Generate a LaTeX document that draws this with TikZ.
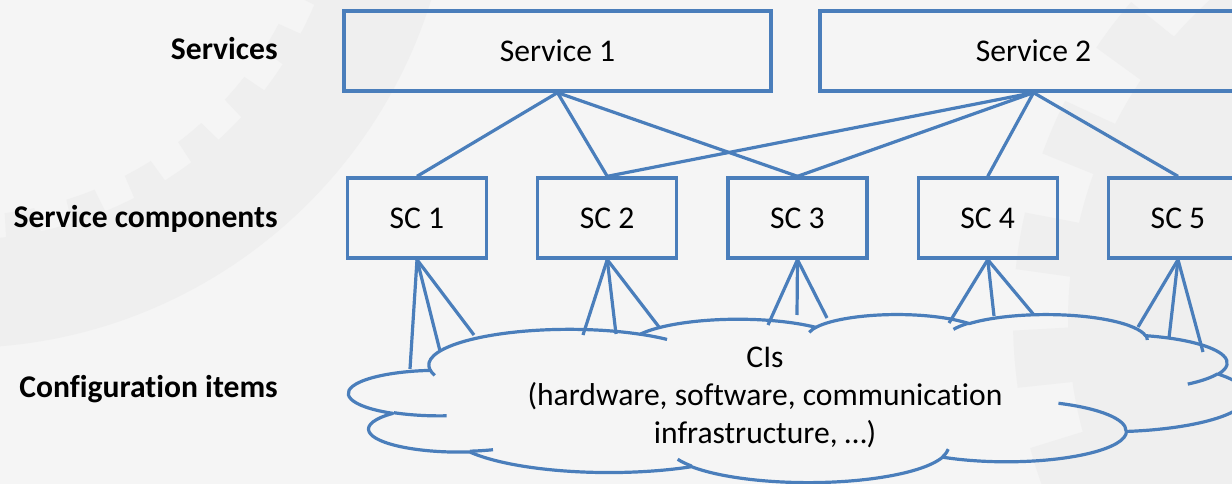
\documentclass[tikz,border=0pt]{standalone}
\usepackage{fontspec}
\setmainfont{Carlito}[Ligatures={NoCommon,NoContextual}]
\definecolor{lineblue}{RGB}{74,126,187}
\definecolor{bgcol}{RGB}{245,245,245}
\definecolor{wmcol}{RGB}{239,239,239}
\newcommand\ooconv[4]{%
  \pgfmathparse{atan2((#3)*sin(#2),(#4)*cos(#2))}%
  \let\ootmp\pgfmathresult
  \pgfmathparse{(#2)+mod(\ootmp-(#2)+540,360)-180}%
  \global\let#1\pgfmathresult}
\begin{document}
\begin{tikzpicture}[x=0.75pt,y=-0.75pt,
  box/.style={draw=lineblue, line width=2.5pt, inner sep=0pt, text=black,
    font=\fontsize{23.7}{28}\selectfont},
  svcbox/.style={box, minimum width=320.25pt, minimum height=60pt},
  scbox/.style={box, minimum width=104.25pt, minimum height=60pt},
  conn/.style={draw=lineblue, line width=2.4pt},
  cloudline/.style={draw=lineblue, line width=2.4pt, line join=round},
  lbl/.style={font=\bfseries\fontsize{23.7}{28}\selectfont, anchor=base east, inner sep=0pt},
  citext/.style={font=\fontsize{23.7}{28}\selectfont, anchor=base, inner sep=0pt},
  wm/.style={fill=wmcol, draw=none}]
\fill[bgcol] (0,0) rectangle (1232,484);
\useasboundingbox (0,0) rectangle (1232,484);
\clip (0,0) rectangle (1232,484);

% faint gear watermark
\begin{scope}[shift={(-41,-146)}]
  \fill[wm, even odd rule] (0,0) circle[radius=494]
    (0,0) -- plot[domain=-20:115, samples=541] (\x:{362+24*mod(floor((\x+2)/5),2)}) -- cycle;
\end{scope}
\begin{scope}[shift={(1500,320)}]
  \fill[wm] (0,0) -- plot[domain=110:250, samples=561] (\x:{432+55*mod(floor((\x+3)/7),2)}) -- cycle;
\end{scope}

% labels
\node[lbl] (l1) at (278,60) {Services};
\node[lbl] (l2) at (278,228) {Service components};
\node[lbl] (l3) at (278,398) {Configuration items};

% boxes
\node[svcbox] (s1) at (557.5,51) {Service 1};
\node[svcbox] (s2) at (1033.5,51) {Service 2};
\node[scbox] (sc1) at (417,218) {SC 1};
\node[scbox] (sc2) at (607.25,218) {SC 2};
\node[scbox] (sc3) at (797.5,218) {SC 3};
\node[scbox] (sc4) at (987.75,218) {SC 4};
\node[scbox] (sc5) at (1178,218) {SC 5};

% service -> component connectors
\draw[conn] (s1.south) -- (sc1.north);
\draw[conn] (s1.south) -- (sc2.north);
\draw[conn] (s1.south) -- (sc3.north);
\draw[conn] (s2.south) -- (sc2.north);
\draw[conn] (s2.south) -- (sc3.north);
\draw[conn] (s2.south) -- (sc4.north);
\draw[conn] (s2.south) -- (sc5.north);

% cloud (PowerPoint cloud geometry)
\ooconv\aAs{-190.48748}{67.53}{91.90}\ooconv\aAe{-66.70695}{67.53}{91.90}
\ooconv\aBs{-144.10238}{53.33}{72.67}\ooconv\aBe{-54.15715}{53.33}{72.67}
\ooconv\aCs{-145.80792}{43.65}{59.45}\ooconv\aCe{-46.08490}{43.65}{59.45}
\ooconv\aDs{-130.98607}{48.57}{65.95}\ooconv\aDe{-13.74434}{48.57}{65.95}
\ooconv\aEs{-78.70888}{53.33}{72.73}\ooconv\aEe{30.31804}{53.33}{72.73}
\ooconv\aFs{-46.26725}{67.75}{92.20}\ooconv\aFe{84.00175}{67.75}{92.20}
\ooconv\aGs{0.62502}{57.85}{78.67}\ooconv\aGe{114.65835}{57.85}{78.67}
\ooconv\aHs{22.45160}{67.52}{92.15}\ooconv\aHe{137.62415}{67.52}{92.15}
\ooconv\aIs{66.24263}{77.20}{105.43}\ooconv\aIe{141.95365}{77.20}{105.43}
\ooconv\aJs{-274.94208}{43.60}{59.18}\ooconv\aJe{-128.20651}{43.60}{59.18}
\ooconv\aKs{-246.82850}{43.45}{59.45}\ooconv\aKe{-94.30965}{43.45}{59.45}
% inner arcs
\ooconv\iAs{86.74200}{43.45}{59.45}\ooconv\iAe{113.17150}{43.45}{59.45}
\ooconv\iBs{73.61047}{43.60}{59.18}\ooconv\iBe{85.05794}{43.60}{59.18}
\ooconv\iCs{137.62415}{67.52}{92.15}\ooconv\iCe{151.70525}{67.52}{92.15}
\ooconv\iDs{6.45327}{67.52}{92.15}\ooconv\iDe{22.45162}{67.52}{92.15}
\ooconv\iEs{-70.29235}{57.85}{78.67}\ooconv\iEe{0.62502}{57.85}{78.67}
\ooconv\iFs{30.31803}{53.33}{72.73}\ooconv\iFe{58.06953}{53.33}{72.73}
\ooconv\iGs{-13.74433}{48.57}{65.95}\ooconv\iGe{1.11457}{48.57}{65.95}
\ooconv\iHs{-149.18145}{48.57}{65.95}\ooconv\iHe{-130.98608}{48.57}{65.95}
\ooconv\iIs{-163.49427}{43.65}{59.45}\ooconv\iIe{-145.80792}{43.65}{59.45}
\ooconv\iJs{-66.70695}{67.53}{91.90}\ooconv\iJe{-54.38760}{67.53}{91.90}
\ooconv\iKs{157.65}{67.53}{91.90}\ooconv\iKe{169.51252}{67.53}{91.90}

\begin{scope}[shift={(349,314)}, x=1.55903pt, y=-0.291667pt]
\draw[cloudline] (39.00,143.70)
  arc[start angle=\aAs, end angle=\aAe, x radius=67.53, y radius=91.90]
  arc[start angle=\aBs, end angle=\aBe, x radius=53.33, y radius=72.67]
  arc[start angle=\aCs, end angle=\aCe, x radius=43.65, y radius=59.45]
  arc[start angle=\aDs, end angle=\aDe, x radius=48.57, y radius=65.95]
  arc[start angle=\aEs, end angle=\aEe, x radius=53.33, y radius=72.73]
  arc[start angle=\aFs, end angle=\aFe, x radius=67.75, y radius=92.20]
  arc[start angle=\aGs, end angle=\aGe, x radius=57.85, y radius=78.67]
  arc[start angle=\aHs, end angle=\aHe, x radius=67.52, y radius=92.15]
  arc[start angle=\aIs, end angle=\aIe, x radius=77.20, y radius=105.43]
  arc[start angle=\aJs, end angle=\aJe, x radius=43.60, y radius=59.18]
  arc[start angle=\aKs, end angle=\aKe, x radius=43.45, y radius=59.45]
  -- cycle;
\draw[cloudline]
  (46.93,261.77) arc[start angle=\iAs, end angle=\iAe, x radius=43.45, y radius=59.45]
  (69.28,348.99) arc[start angle=\iBs, end angle=\iBe, x radius=43.60, y radius=59.18]
  (164.78,390.90) arc[start angle=\iCs, end angle=\iCe, x radius=67.52, y radius=92.15]
  (288.27,347.51) arc[start angle=\iDs, end angle=\iDe, x radius=67.52, y radius=92.15]
  (341.29,229.54) arc[start angle=\iEs, end angle=\iEe, x radius=57.85, y radius=78.67]
  (417.98,153.54) arc[start angle=\iFs, end angle=\iFe, x radius=53.33, y radius=72.73]
  (383.24,54.26) arc[start angle=\iGs, end angle=\iGe, x radius=48.57, y radius=65.95]
  (290.78,39.52) arc[start angle=\iHs, end angle=\iHe, x radius=48.57, y radius=65.95]
  (221.41,47.20) arc[start angle=\iIs, end angle=\iIe, x radius=43.65, y radius=59.45]
  (140.00,51.92) arc[start angle=\iJs, end angle=\iJe, x radius=67.53, y radius=91.90]
  (41.27,157.89) arc[start angle=\iKs, end angle=\iKe, x radius=67.53, y radius=91.90];
\end{scope}

% cloud text
\node[citext] (ci1) at (765,368) {CIs};
\node[citext] (ci2) at (765,406) {(hardware, software, communication};
\node[citext] (ci3) at (765,444) {infrastructure, …)};

% component -> cloud connectors
\coordinate (k11) at (410,369);
\coordinate (k12) at (440,351);
\coordinate (k13) at (474,335);
\coordinate (k21) at (583,335);
\coordinate (k22) at (616,334);
\coordinate (k23) at (659,327);
\coordinate (k31) at (768,325);
\coordinate (k32) at (797,315);
\coordinate (k33) at (827,318);
\coordinate (k41) at (949,323);
\coordinate (k42) at (994,316);
\coordinate (k43) at (1034,315);
\coordinate (k51) at (1138,327);
\coordinate (k52) at (1169,338);
\coordinate (k53) at (1203,352);
\foreach \s/\k in {sc1/k11,sc1/k12,sc1/k13,sc2/k21,sc2/k22,sc2/k23,sc3/k31,sc3/k32,sc3/k33,sc4/k41,sc4/k42,sc4/k43,sc5/k51,sc5/k52,sc5/k53}
  \draw[conn] (\s.south) -- (\k);
\end{tikzpicture}
\end{document}
